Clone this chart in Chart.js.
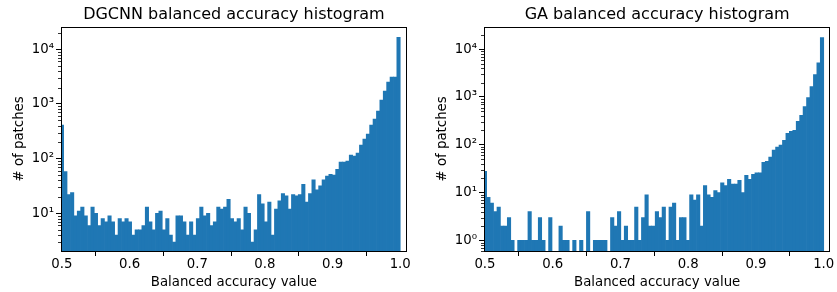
<!DOCTYPE html>
<html>
<head>
<meta charset="utf-8">
<script src="https://cdn.jsdelivr.net/npm/chart.js@4.4.1/dist/chart.umd.min.js"></script>
<style>
  html, body { margin: 0; padding: 0; background: #fff; }
  #wrap { position: relative; width: 837px; height: 292px; }
  .panel { position: absolute; top: 0; height: 292px; }
</style>
</head>
<body>
<div id="wrap">
  <div class="panel" style="left:0;width:418px"><canvas id="dgcnnChart" width="418" height="292"></canvas></div>
  <div class="panel" style="left:418px;width:419px"><canvas id="gaChart" width="419" height="292"></canvas></div>
</div>
<script>
// histogram counts per bin, left to right (first bin is cut by the axis limit)
const dgcnnCounts = [411, 58, 22, 24, 9, 11, 13, 9, 6, 13, 10, 6, 8, 7, 9, 7, 4, 8, 7, 8,
  7, 4, 5, 5, 6, 13, 7, 5, 10, 11, 5, 8, 4, 3, 9, 9, 7, 4, 7, 4,
  8, 13, 9, 10, 6, 7, 13, 12, 13, 18, 8, 7, 8, 5, 13, 10, 3, 5, 22, 15,
  7, 16, 4, 12, 17, 23, 21, 12, 22, 21, 22, 34, 16, 23, 41, 27, 32, 41, 48, 52,
  50, 64, 87, 87, 90, 116, 112, 127, 177, 228, 282, 411, 529, 741, 1178, 1722, 2514, 3101, 3101, 16500];
const gaCounts = [28, 8, 6, 4, 5, 2, 2, 3, 1, null, 1, 1, 1, 4, 1, 1, 3, 1, null, 3,
  null, null, 2, 1, 1, null, 1, null, 1, null, 4, null, 1, 1, 1, 1, null, 3, 2, 4,
  1, 2, 1, 1, 5, 1, 3, 9, 2, 2, 4, 3, 5, 1, 5, 6, 1, 3, 3, 1,
  9, 7, 9, 2, 14, 9, 8, 11, 10, 16, 14, 19, 15, 15, 18, 10, 23, 19, 24, 26,
  26, 43, 45, 55, 77, 89, 98, 124, 173, 191, 200, 308, 411, 632, 972, 1645, 2923, 5190, 17500];

// bins end at 1.0
const dgcnnBinWidth = 1 / 199;
const gaBinWidth = 1 / 197;

const xTicks = [0.5, 0.6, 0.7, 0.8, 0.9, 1.0];
const dgcnnYTicks = [10, 100, 1000, 10000];
const gaYTicks = [1, 10, 100, 1000, 10000];
const sup = { 0: "\u2070", 1: "\u00b9", 2: "\u00b2", 3: "\u00b3", 4: "\u2074" };

Chart.defaults.font.family = "'DejaVu Sans', sans-serif";
Chart.defaults.color = "#000";

function binData(counts, width) {
  const n = counts.length;
  return counts.map((c, i) => ({ x: 1 - (n - i - 0.5) * width, y: c }));
}

// box around the axes + minor log ticks
const frame = {
  id: "frame",
  afterDatasetsDraw(chart) {
    const { ctx, chartArea: a } = chart;
    const y = chart.scales.y;
    const left = Math.round(a.left);
    ctx.save();
    ctx.strokeStyle = "#000";
    ctx.beginPath();
    for (let p = -1; p <= 4; p++) {
      for (let m = 2; m <= 9; m++) {
        const v = m * Math.pow(10, p);
        if (v <= y.min || v >= y.max) continue;
        const py = Math.round(y.getPixelForValue(v)) + 0.5;
        ctx.moveTo(left - 3, py);
        ctx.lineTo(left, py);
      }
    }
    ctx.lineWidth = 0.8;
    ctx.stroke();
    ctx.lineWidth = 1;
    ctx.strokeRect(left + 0.5, Math.round(a.top) + 0.5,
      Math.round(a.right) - left - 1, Math.round(a.bottom) - Math.round(a.top));
    ctx.restore();
  }
};

function makeHistogram(id, title, counts, binWidth, yMin, yMax, yTicks, axisWidth, padRight, yTitlePad) {
  new Chart(document.getElementById(id), {
    type: "bar",
    data: {
      datasets: [{
        data: binData(counts, binWidth),
        backgroundColor: "#1f77b4",
        borderWidth: 0,
        barPercentage: 1,
        categoryPercentage: 1,
        clip: 0
      }]
    },
    options: {
      responsive: false,
      animation: false,
      devicePixelRatio: 1,
      layout: { padding: { left: 0, right: padRight, top: 0, bottom: 0 } },
      plugins: {
        legend: { display: false },
        tooltip: { enabled: false },
        title: {
          display: true,
          text: title,
          fullSize: false,
          color: "#000",
          font: { size: 16, weight: "normal" },
          padding: { top: 5.7, bottom: 1.8 }
        }
      },
      scales: {
        x: {
          type: "linear",
          min: 0.4986,
          max: 1.0097,
          offset: false,
          grid: { drawOnChartArea: false, drawTicks: true, tickLength: 5, tickColor: "#000", tickWidth: 1 },
          border: { display: false },
          afterBuildTicks: (s) => { s.ticks = xTicks.map((v) => ({ value: v })); },
          afterFit: (s) => { s.height = 41; },
          ticks: {
            autoSkip: false,
            maxRotation: 0,
            padding: 1,
            font: { size: 13.3 },
            callback: (v) => v.toFixed(1)
          },
          title: {
            display: true,
            text: "Balanced accuracy value",
            font: { size: 13.3 },
            padding: { top: 0, bottom: 1 }
          }
        },
        y: {
          type: "logarithmic",
          min: yMin,
          max: yMax,
          grid: { drawOnChartArea: false, drawTicks: true, tickLength: 5, tickColor: "#000", tickWidth: 1 },
          border: { display: false },
          afterBuildTicks: (s) => { s.ticks = yTicks.map((v) => ({ value: v })); },
          afterFit: (s) => { s.width = axisWidth; },
          ticks: {
            autoSkip: false,
            padding: 2,
            font: { size: 13.3 },
            callback: (v) => "10" + sup[Math.round(Math.log10(v))]
          },
          title: {
            display: true,
            text: "# of patches",
            font: { size: 13.3 },
            padding: { top: yTitlePad, bottom: 0 }
          }
        }
      }
    },
    plugins: [frame]
  });
}

makeHistogram("dgcnnChart", "DGCNN balanced accuracy histogram", dgcnnCounts, dgcnnBinWidth,
  2.05, 25900, dgcnnYTicks, 61, 11.2, 12);
makeHistogram("gaChart", "GA balanced accuracy histogram", gaCounts, gaBinWidth,
  0.64, 29500, gaYTicks, 66, 6.7, 16.5);
</script>
</body>
</html>
